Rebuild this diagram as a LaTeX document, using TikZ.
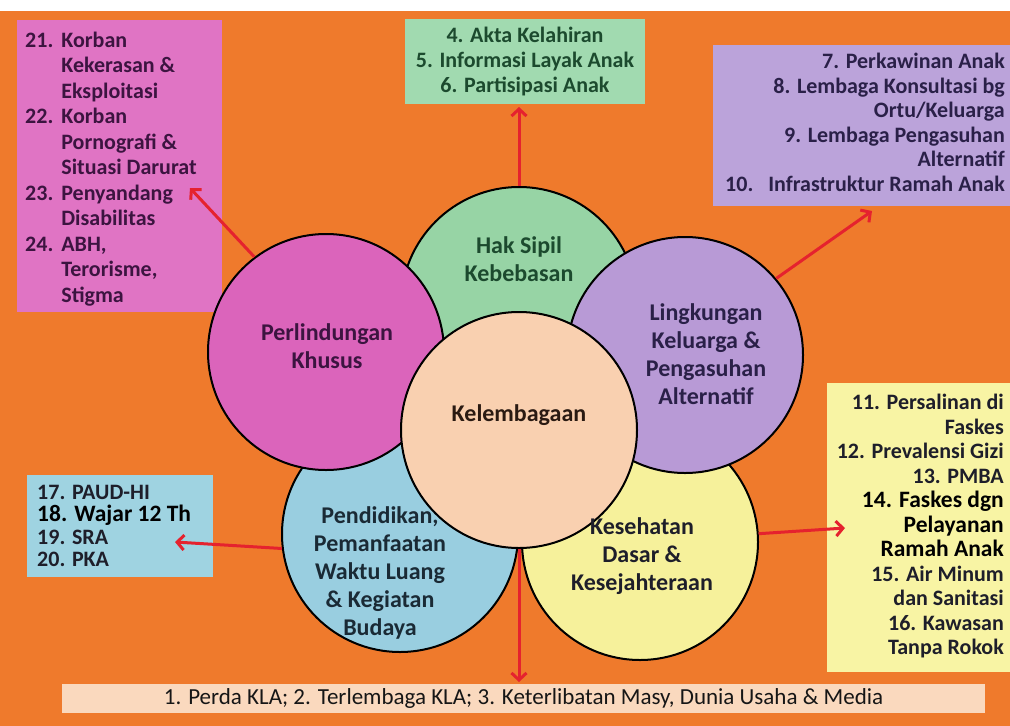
\documentclass[tikz,border=0pt]{standalone}
\usepackage{fontspec}
\setmainfont{Carlito}
\usetikzlibrary{arrows.meta}
\definecolor{bgorange}{HTML}{EF7A2C}
\definecolor{pinkbox}{HTML}{E074C4}
\definecolor{pinkcirc}{HTML}{DB64BB}
\definecolor{greenbox}{HTML}{A1DAB0}
\definecolor{greencirc}{HTML}{97D4A5}
\definecolor{purplebox}{HTML}{BBA3DA}
\definecolor{purplecirc}{HTML}{B89AD6}
\definecolor{yellowbox}{HTML}{F8F4A4}
\definecolor{yellowcirc}{HTML}{F6F19B}
\definecolor{bluebox}{HTML}{9FD3E1}
\definecolor{bluecirc}{HTML}{99CEE0}
\definecolor{centercirc}{HTML}{F9D0B0}
\definecolor{peachbox}{HTML}{FAD9BE}
\definecolor{arrowred}{HTML}{E5222E}
\definecolor{txtgreen}{HTML}{1C4A2E}
\definecolor{txtpink}{HTML}{3C1440}
\definecolor{txtpurple}{HTML}{2A2048}
\definecolor{txtdark}{HTML}{1E1E2A}
\definecolor{txtblack}{HTML}{161616}
\definecolor{txtbrown}{HTML}{2A1A12}
\definecolor{txtslate}{HTML}{1A2A35}
\begin{document}
\begin{tikzpicture}[x=1pt,y=-1pt,
  boxn/.style={rectangle, inner sep=0pt, outer sep=0pt, anchor=north west},
  circn/.style={circle, draw=black, line width=2pt, minimum size=236pt, inner sep=0pt},
  btxt/.style={font=\fontsize{22}{25}\selectfont\bfseries, inner sep=0pt},
  ctxt/.style={font=\fontsize{24}{28}\selectfont\bfseries, align=center, inner sep=0pt},
  redarrow/.style={draw=arrowred, line width=3pt, -{Straight Barb[length=7pt,width=15pt]}},
]
\path[use as bounding box, fill=white] (0,0) rectangle (1010,726);
\fill[bgorange] (0,11) rectangle (1010,726);

% boxes
\node[boxn, fill=pinkbox, minimum width=205pt, minimum height=292pt] (pinkb) at (17,20) {};
\node[boxn, fill=greenbox, minimum width=240pt, minimum height=85pt, btxt, text=txtgreen, align=center] (greenb) at (405,19)
  {4. Akta Kelahiran\\5. Informasi Layak Anak\\6. Partisipasi Anak};
\node[boxn, fill=purplebox, minimum width=297pt, minimum height=161pt] (purpleb) at (713,45) {};
\node[boxn, fill=yellowbox, minimum width=183pt, minimum height=289pt] (yellowb) at (827,383) {};
\node[boxn, fill=bluebox, minimum width=186pt, minimum height=102pt] (blueb) at (27,475) {};
\node[boxn, fill=peachbox, minimum width=923pt, minimum height=29pt, inner sep=0pt, font=\fontsize{23}{25}\selectfont, text=txtblack] (botb) at (62,684)
  {1. Perda KLA; 2. Terlembaga KLA; 3. Keterlibatan Masy, Dunia Usaha \& Media};

% box texts
\node[btxt, text=txtpink, anchor=north west] (pinkt) at (25,29)
  {\fontsize{22}{25.5}\selectfont\begin{tabular}{@{}l@{\hspace{8pt}}l@{}}
   21. & Korban\\ & Kekerasan \&\\ & Eksploitasi\\
   22. & Korban\\ & Pornografi \&\\ & Situasi Darurat\\
   23. & Penyandang\\ & Disabilitas\\
   24. & ABH,\\ & Terorisme,\\ & Stigma
  \end{tabular}};
\node[btxt, text=txtpurple, align=right, anchor=north east, font=\fontsize{22}{24.5}\selectfont\bfseries] (purplet) at (1005,53)
  {7. Perkawinan Anak\\8. Lembaga Konsultasi bg\\Ortu/Keluarga\\9. Lembaga Pengasuhan\\Alternatif\\10.\ \ \ Infrastruktur Ramah Anak};
\node[btxt, text=txtdark, align=right, anchor=north east, font=\fontsize{22}{24.5}\selectfont\bfseries] (yellowt) at (1004,394)
  {11. Persalinan di\\Faskes\\12. Prevalensi Gizi\\13. PMBA\\
   {\fontsize{23.5}{24.5}\selectfont\color{black}14. Faskes dgn}\\
   {\fontsize{23.5}{24.5}\selectfont\color{black}Pelayanan}\\
   {\fontsize{23.5}{24.5}\selectfont\color{black}Ramah Anak}\\
   15. Air Minum\\dan Sanitasi\\16. Kawasan\\Tanpa Rokok};
\node[btxt, text=txtdark, align=left, anchor=north west, font=\fontsize{22}{22.5}\selectfont\bfseries] (bluet) at (37,485)
  {17. PAUD-HI\\{\fontsize{23.5}{22.5}\selectfont\color{black}18. Wajar 12 Th}\\19. SRA\\20. PKA};

% circles
\node[circn, fill=bluecirc] (blc) at (400,534) {};
\node[circn, fill=yellowcirc] (ylc) at (640,542) {};
\node[circn, fill=greencirc] (grc) at (519,305) {};
\node[circn, fill=pinkcirc] (pkc) at (326,352) {};
\node[circn, fill=purplecirc] (puc) at (685,355) {};
\node[circn, fill=centercirc] (ctc) at (519,430) {};

% circle texts
\node[ctxt, text=txtgreen] (grt) at (519,259) {Hak Sipil\\Kebebasan};
\node[ctxt, text=txtpink] (pkt) at (327,346) {Perlindungan\\Khusus};
\node[ctxt, text=txtpurple] (put) at (706,354) {Lingkungan\\Keluarga \&\\Pengasuhan\\Alternatif};
\node[ctxt, text=txtbrown] (ctt) at (519,415) {Kelembagaan};
\node[ctxt, text=txtslate] (blt) at (380,573) {Pendidikan,\\Pemanfaatan\\Waktu Luang\\\& Kegiatan\\Budaya};
\node[ctxt, text=txtdark] (ylt) at (642,556) {Kesehatan\\Dasar \&\\Kesejahteraan};

% arrow end points
\coordinate (pinktip) at (190,188);
\coordinate (purpletip) at (872,211);
\coordinate (yellowtip) at (845,528);
\coordinate (bluetip) at (175,542);

% arrows
\draw[redarrow] (grc.north) -- ([yshift=-3pt]grc.north |- greenb.south);
\draw[redarrow] (pkc.127) -- (pinktip);
\draw[redarrow] (puc.40) -- (purpletip);
\draw[redarrow] (ylc.4) -- (yellowtip);
\draw[redarrow] (blc.187) -- (bluetip);
\draw[redarrow] (ctc.south) -- ([yshift=2pt]ctc.south |- botb.north);
\end{tikzpicture}
\end{document}
